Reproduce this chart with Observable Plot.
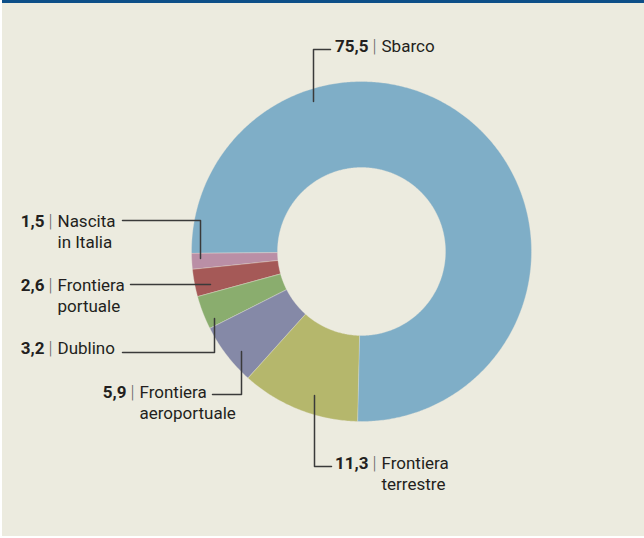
<!DOCTYPE html>
<html>
<head>
<meta charset="utf-8">
<script src="https://cdn.jsdelivr.net/npm/d3@7"></script>
<script src="https://cdn.jsdelivr.net/npm/@observablehq/plot@0.6"></script>
<style>
  html, body { margin: 0; padding: 0; background: #ffffff; width: 644px; height: 538px; overflow: hidden; }
  #frame { position: absolute; left: 2px; top: 0; width: 642px; height: 536px; box-sizing: border-box;
           background: #ecebdf; border-top: 3px solid #0d4f88; }
  #chart { position: absolute; left: 0; top: 0; }
</style>
</head>
<body>
<div id="frame"></div>
<div id="chart"></div>
<script>
// ---- data ----
const categories = ["Frontiera terrestre", "Frontiera aeroportuale", "Dublino", "Frontiera portuale", "Nascita in Italia", "Sbarco"];
const values = [11.3, 5.9, 3.2, 2.6, 1.5, 75.5];
const valueLabels = ["11,3", "5,9", "3,2", "2,6", "1,5", "75,5"];
const nameLines = [["Frontiera", "terrestre"], ["Frontiera", "aeroportuale"], ["Dublino"], ["Frontiera", "portuale"], ["Nascita", "in Italia"], ["Sbarco"]];
const colors = ["#b5b76c", "#8589a7", "#8aad6e", "#a55957", "#ba8fa6", "#7faec7"];

// ---- layout (chart units = px offsets from donut centre, y downwards) ----
const outerR = 170, innerR = 84;
const startRot = Math.PI + 1.3 * Math.PI / 180;
const labelLayout = [
  {nameX: 20,   base: 217, leader: [[-47, 144], [-47, 215], [-30, 215]]},
  {nameX: -222, base: 146, leader: [[-149, 143], [-120, 143], [-120, 100]]},
  {nameX: -304, base: 102, leader: [[-239, 101], [-147, 101], [-147, 67]]},
  {nameX: -304, base: 39,  leader: [[-231, 33], [-151, 33]]},
  {nameX: -304, base: -25, leader: [[-239, -31], [-161, -31], [-161, 7]]},
  {nameX: 20,   base: -200, leader: [[-48, -150], [-48, -202], [-31, -202]]}
];
const lineStep = 21;

// ---- build slices ----
const arcs = d3.pie().sort(null).startAngle(startRot).endAngle(startRot + 2 * Math.PI)(values);
const slicePts = [];
arcs.forEach((a, i) => {
  const n = Math.max(2, Math.ceil((a.endAngle - a.startAngle) / 0.01));
  for (let k = 0; k <= n; k++) {
    const t = a.startAngle + (a.endAngle - a.startAngle) * k / n;
    slicePts.push({name: categories[i], x: outerR * Math.sin(t), y: -outerR * Math.cos(t)});
  }
  for (let k = n; k >= 0; k--) {
    const t = a.startAngle + (a.endAngle - a.startAngle) * k / n;
    slicePts.push({name: categories[i], x: innerR * Math.sin(t), y: -innerR * Math.cos(t)});
  }
});

const leaderPts = [];
const numberRows = [], barRows = [], nameRows = [];
categories.forEach((c, i) => {
  const L = labelLayout[i];
  L.leader.forEach(([x, y]) => leaderPts.push({id: c, x, y}));
  numberRows.push({x: L.nameX - 13, y: L.base, text: valueLabels[i]});
  barRows.push({x: L.nameX - 7, y: L.base, text: "|"});
  nameLines[i].forEach((t, j) => nameRows.push({x: L.nameX, y: L.base + j * lineStep, text: t}));
});

const cx = 361, cy = 251, W = 644, H = 538;
const fontSize = 17;

const chart = Plot.plot({
  width: W, height: H,
  margin: 0,
  x: {domain: [-cx, W - cx], axis: null},
  y: {domain: [H - cy, -cy], axis: null},
  color: {domain: categories, range: colors},
  style: {background: "transparent", fontFamily: "Roboto, 'Open Sans', sans-serif"},
  marks: [
    Plot.line(slicePts, {x: "x", y: "y", z: "name", fill: "name", stroke: "#e8e6da", strokeWidth: 0.5, strokeOpacity: 0.7, curve: "linear-closed"}),
    Plot.line(leaderPts, {x: "x", y: "y", z: "id", stroke: "#3a3a3a", strokeWidth: 1.5, curve: "linear"}),
    Plot.text(numberRows, {x: "x", y: "y", text: "text", textAnchor: "end", lineAnchor: "bottom", fontSize, fontWeight: "bold", fill: "#231f20"}),
    Plot.text(barRows, {x: "x", y: "y", text: "text", textAnchor: "middle", lineAnchor: "bottom", fontSize: fontSize + 1, fontWeight: 300, fill: "#6a6a6a"}),
    Plot.text(nameRows, {x: "x", y: "y", text: "text", textAnchor: "start", lineAnchor: "bottom", fontSize, fill: "#231f20"})
  ]
});
document.getElementById("chart").appendChild(chart);
</script>
</body>
</html>
